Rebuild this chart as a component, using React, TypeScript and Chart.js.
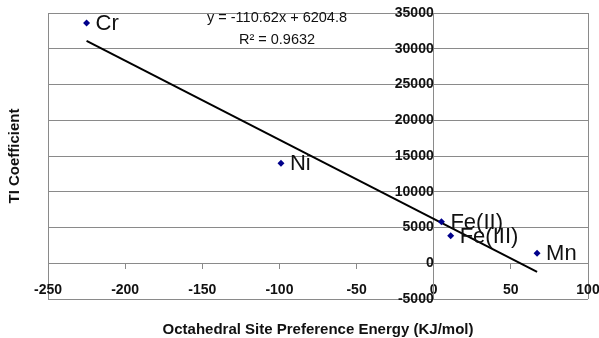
import React, { useEffect, useRef } from "react";
import { Chart, registerables } from "chart.js";

Chart.register(...registerables);

const pointNames = ["Cr", "Ni", "Fe(II)", "Fe(III)", "Mn"];
const energyValues = [-225, -99, 5, 11, 67];
const tiCoefficients = [33600, 14000, 5800, 3850, 1400];
const trendSlope = -110.62;
const trendIntercept = 6204.8;
const trendXRange = [-225, 67];
const equationLines = ["y = -110.62x + 6204.8", "R² = 0.9632"];
const xTitle = "Octahedral Site Preference Energy (KJ/mol)";
const yTitle = "TI Coefficient";

const FONT = "'Liberation Sans', Arial, sans-serif";
const GRID = "#8a8a8a";

const zeroPadding = (s: any) => {
  s.paddingLeft = 0;
  s.paddingRight = 0;
  s.paddingTop = 0;
  s.paddingBottom = 0;
};

const overlayPlugin = {
  id: "overlay",
  afterDraw(chart: any) {
    const { ctx, chartArea } = chart;
    const meta = chart.getDatasetMeta(0);
    ctx.save();
    ctx.fillStyle = "#111";
    ctx.font = `22px ${FONT}`;
    ctx.textAlign = "left";
    ctx.textBaseline = "middle";
    meta.data.forEach((el: any, i: number) => {
      ctx.fillText(pointNames[i], el.x + 9, el.y + 1);
    });
    ctx.font = `14.5px ${FONT}`;
    ctx.textAlign = "center";
    const cx = 277;
    ctx.fillText(equationLines[0], cx, chartArea.top + 5);
    ctx.fillText(equationLines[1], cx, chartArea.top + 27);
    ctx.font = `bold 15px ${FONT}`;
    ctx.fillText(xTitle, (chartArea.left + chartArea.right) / 2, 330);
    ctx.translate(15, 156);
    ctx.rotate(-Math.PI / 2);
    ctx.fillText(yTitle, 0, 0);
    ctx.restore();
  },
};

export default function App() {
  const ref = useRef<HTMLCanvasElement>(null);
  useEffect(() => {
    document.body.style.margin = "0";
    const points = energyValues.map((x, i) => ({ x, y: tiCoefficients[i] }));
    const trend = trendXRange.map((x) => ({ x, y: trendSlope * x + trendIntercept }));
    const chart = new Chart(ref.current!, {
      type: "scatter",
      data: {
        datasets: [
          {
            data: points,
            pointStyle: "rectRot",
            radius: 3.5,
            backgroundColor: "#00008b",
            borderColor: "#00008b",
            borderWidth: 0,
          },
          {
            type: "line",
            data: trend,
            borderColor: "#000",
            borderWidth: 2,
            pointRadius: 0,
            fill: false,
          } as any,
        ],
      },
      options: {
        responsive: false,
        animation: false,
        layout: { padding: { left: 48, right: 11, top: 13, bottom: 39 } },
        plugins: { legend: { display: false }, tooltip: { enabled: false } },
        scales: {
          x: {
            type: "linear",
            position: { y: 0 } as any,
            min: -250,
            max: 100,
            afterFit: zeroPadding,
            ticks: {
              stepSize: 50,
              color: "#111",
              padding: 13,
              maxRotation: 0,
              callback: (v: any) => String(v),
              font: { family: FONT, size: 14, weight: "bold" },
            },
            grid: {
              color: (c: any) =>
                c.tick && (c.tick.value === -250 || c.tick.value === 100) ? GRID : "rgba(0,0,0,0)",
              tickColor: GRID,
              tickLength: 5,
            },
            border: { display: true, color: GRID },
          },
          y: {
            type: "linear",
            position: { x: 0 } as any,
            min: -5000,
            max: 35000,
            afterFit: zeroPadding,
            ticks: {
              stepSize: 5000,
              color: "#111",
              padding: 9,
              callback: (v: any) => String(v),
              font: { family: FONT, size: 14, weight: "bold" },
            },
            grid: { color: GRID, tickColor: GRID, tickLength: 5 },
            border: { display: true, color: GRID },
          },
        },
      },
      plugins: [overlayPlugin],
    });
    return () => chart.destroy();
  }, []);
  return <canvas ref={ref} width={599} height={338} />;
}
